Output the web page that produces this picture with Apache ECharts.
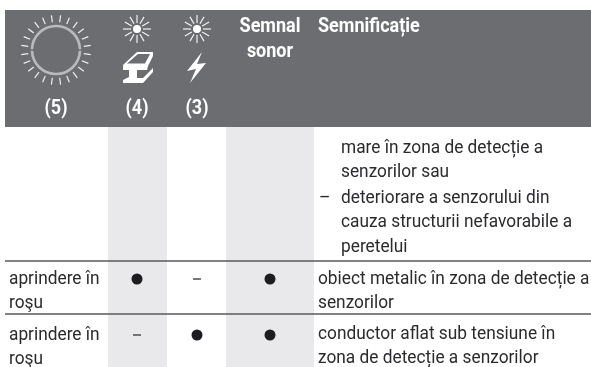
<!DOCTYPE html>
<html>
<head>
<meta charset="utf-8">
<style>html,body{margin:0;background:#fff}#chart{width:591px;height:367px}</style>
<script src="https://cdn.jsdelivr.net/npm/echarts@6/dist/echarts.min.js"></script>
</head>
<body>
<div id="chart"></div>
<script>
// table content
const statusCols = ['(4)', '(3)', 'sonor']
const rowNames = ['', 'aprindere în\nroşu', 'aprindere în\nroşu']
const col4Values = [null, 1, 0]
const col3Values = [null, 0, 1]
const soundValues = [null, 1, 1]
const meaningRows = [
  ['mare în zona de detecție a', 'senzorilor sau'],
  ['obiect metalic în zona de detecție a', 'senzorilor'],
  ['conductor aflat sub tensiune în', 'zona de detecție a senzorilor']
]
const meaningBullet = ['deteriorare a senzorului din', 'cauza structurii nefavorabile a', 'peretelui']

// layout, in page pixels
const colCenter = [137, 197, 270]
const rowMarkY = [0, 279, 335]
const bands = [[108, 167], [226, 314]]
const rules = [261, 314]
const font = 'Roboto, sans-serif'
const bodyColor = '#2b2b2e'

function marks(values) {
  return values.map((v, i) => ({ v, i })).filter(d => d.v !== null)
}
function markSeries(values, col, wanted) {
  return {
    type: 'scatter', silent: true, z: 5,
    symbol: wanted ? 'circle' : 'rect',
    symbolSize: wanted ? 11 : [8, 1.6],
    itemStyle: { color: wanted ? '#1d1d21' : '#55565a', opacity: 1 },
    data: marks(values).filter(d => d.v === wanted).map(d => [colCenter[col], rowMarkY[d.i]])
  }
}

function txt(x, y, text, opt = {}) {
  return {
    type: 'text', x, y, z: 10, silent: true, scaleX: opt.sx || 0.91,
    style: {
      text, fill: opt.fill || bodyColor, font: `${opt.weight || 'normal'} ${opt.size || 19}px ${font}`,
      textAlign: opt.align || 'left', textVerticalAlign: 'middle'
    }
  }
}
function head(x, y, text, align) {
  return txt(x, y, text, { fill: '#fff', weight: 'bold', align, sx: 0.9, size: 20 })
}
function ray(cx, cy, a, r0, r1, stroke, w) {
  return {
    type: 'line', z: 10, silent: true,
    shape: { x1: cx + r0 * Math.cos(a), y1: cy + r0 * Math.sin(a), x2: cx + r1 * Math.cos(a), y2: cy + r1 * Math.sin(a) },
    style: { stroke, lineWidth: w }
  }
}
function smallSun(cx, cy) {
  const out = [{ type: 'circle', z: 10, silent: true, shape: { cx, cy, r: 4 }, style: { fill: '#fff' } }]
  for (let i = 0; i < 12; i++) out.push(ray(cx, cy, i * Math.PI / 6, 6, 14, '#f2f2f2', 1.2))
  return out
}

const shapes = []
// big ring, split left and right
const ringC = [56, 50]
shapes.push({ type: 'arc', z: 10, silent: true, shape: { cx: ringC[0], cy: ringC[1], r: 24, startAngle: 0.03, endAngle: Math.PI - 0.03 }, style: { stroke: '#b9babb', lineWidth: 2.6, fill: null } })
shapes.push({ type: 'arc', z: 10, silent: true, shape: { cx: ringC[0], cy: ringC[1], r: 24, startAngle: Math.PI + 0.03, endAngle: 2 * Math.PI - 0.03 }, style: { stroke: '#b9babb', lineWidth: 2.6, fill: null } })
for (let i = 0; i < 24; i++) {
  const a = (i + 0.5) * Math.PI * 2 / 24
  shapes.push(ray(ringC[0], ringC[1], a, 28, 35, '#f0f0f0', 1.2))
}
shapes.push(...smallSun(137, 29), ...smallSun(197, 29))
// beam
shapes.push({
  type: 'polygon', z: 10, silent: true,
  shape: { points: [[123, 65], [137, 52], [153, 52], [153, 56], [148, 66], [147, 70], [137, 70], [137, 78], [143, 78], [153, 68], [153, 72], [143, 83], [123, 83], [123, 80], [129, 77], [129, 70], [123, 70]] },
  style: { fill: '#fff' }
})
shapes.push({ type: 'polygon', z: 11, silent: true, shape: { points: [[127, 63.5], [138, 54], [150, 54], [145, 63.5]] }, style: { fill: '#6c6d71' } })
shapes.push({ type: 'polygon', z: 10, silent: true, shape: { points: [[202, 52], [187, 71], [196, 69], [190, 83], [206, 63], [197, 64]] }, style: { fill: '#fff' } })

// header labels
shapes.push(head(270, 27, 'Semnal', 'center'))
shapes.push(head(270, 52, statusCols[2], 'center'))
shapes.push(head(318, 27, 'Semnificație'))
shapes.push(head(56, 109, '(5)', 'center'))
shapes.push(head(colCenter[0], 109, statusCols[0], 'center'))
shapes.push(head(colCenter[1], 109, statusCols[1], 'center'))

// body text
const lineStep = 24.6
meaningRows[0].forEach((t, i) => shapes.push(txt(341, 148 + i * lineStep, t)))
shapes.push(txt(319, 198, '–'))
meaningBullet.forEach((t, i) => shapes.push(txt(341, 198 + i * lineStep, t)))
meaningRows[1].forEach((t, i) => shapes.push(txt(318, 279 + i * 24, t)))
meaningRows[2].forEach((t, i) => shapes.push(txt(318, 334 + i * 24, t)))
rowNames.forEach((t, r) => {
  if (!t) return
  t.split('\n').forEach((line, i) => shapes.push(txt(9, rowMarkY[r] + i * 24, line)))
})

const chart = echarts.init(document.getElementById('chart'), null, { renderer: 'canvas' })
chart.setOption({
  animation: false,
  grid: { left: 0, right: 0, top: 0, bottom: 0 },
  xAxis: { type: 'value', min: 0, max: 591, show: false },
  yAxis: { type: 'value', min: 0, max: 367, inverse: true, show: false },
  graphic: shapes,
  series: [
    {
      type: 'custom', silent: true, z: 1,
      data: bands,
      renderItem(params, api) {
        const a = api.coord([api.value(0), 127])
        const b = api.coord([api.value(1), 367])
        return { type: 'rect', shape: { x: a[0], y: a[1], width: b[0] - a[0], height: b[1] - a[1] }, style: { fill: '#e9e9eb' } }
      }
    },
    {
      type: 'custom', silent: true, z: 2,
      data: [[5, 591, 10, 127]],
      renderItem(params, api) {
        const a = api.coord([api.value(0), api.value(2)])
        const b = api.coord([api.value(1), api.value(3)])
        return { type: 'rect', shape: { x: a[0], y: a[1], width: b[0] - a[0], height: b[1] - a[1] }, style: { fill: '#6c6d71' } }
      }
    },
    {
      type: 'custom', silent: true, z: 3,
      data: rules.map(y => [y]),
      renderItem(params, api) {
        const a = api.coord([5, api.value(0)])
        const b = api.coord([591, api.value(0)])
        return { type: 'line', shape: { x1: a[0], y1: a[1], x2: b[0], y2: b[1] }, style: { stroke: '#57585c', lineWidth: 1.5 } }
      }
    },
    markSeries(col4Values, 0, 1), markSeries(col4Values, 0, 0),
    markSeries(col3Values, 1, 1), markSeries(col3Values, 1, 0),
    markSeries(soundValues, 2, 1)
  ]
})
</script>
</body>
</html>
